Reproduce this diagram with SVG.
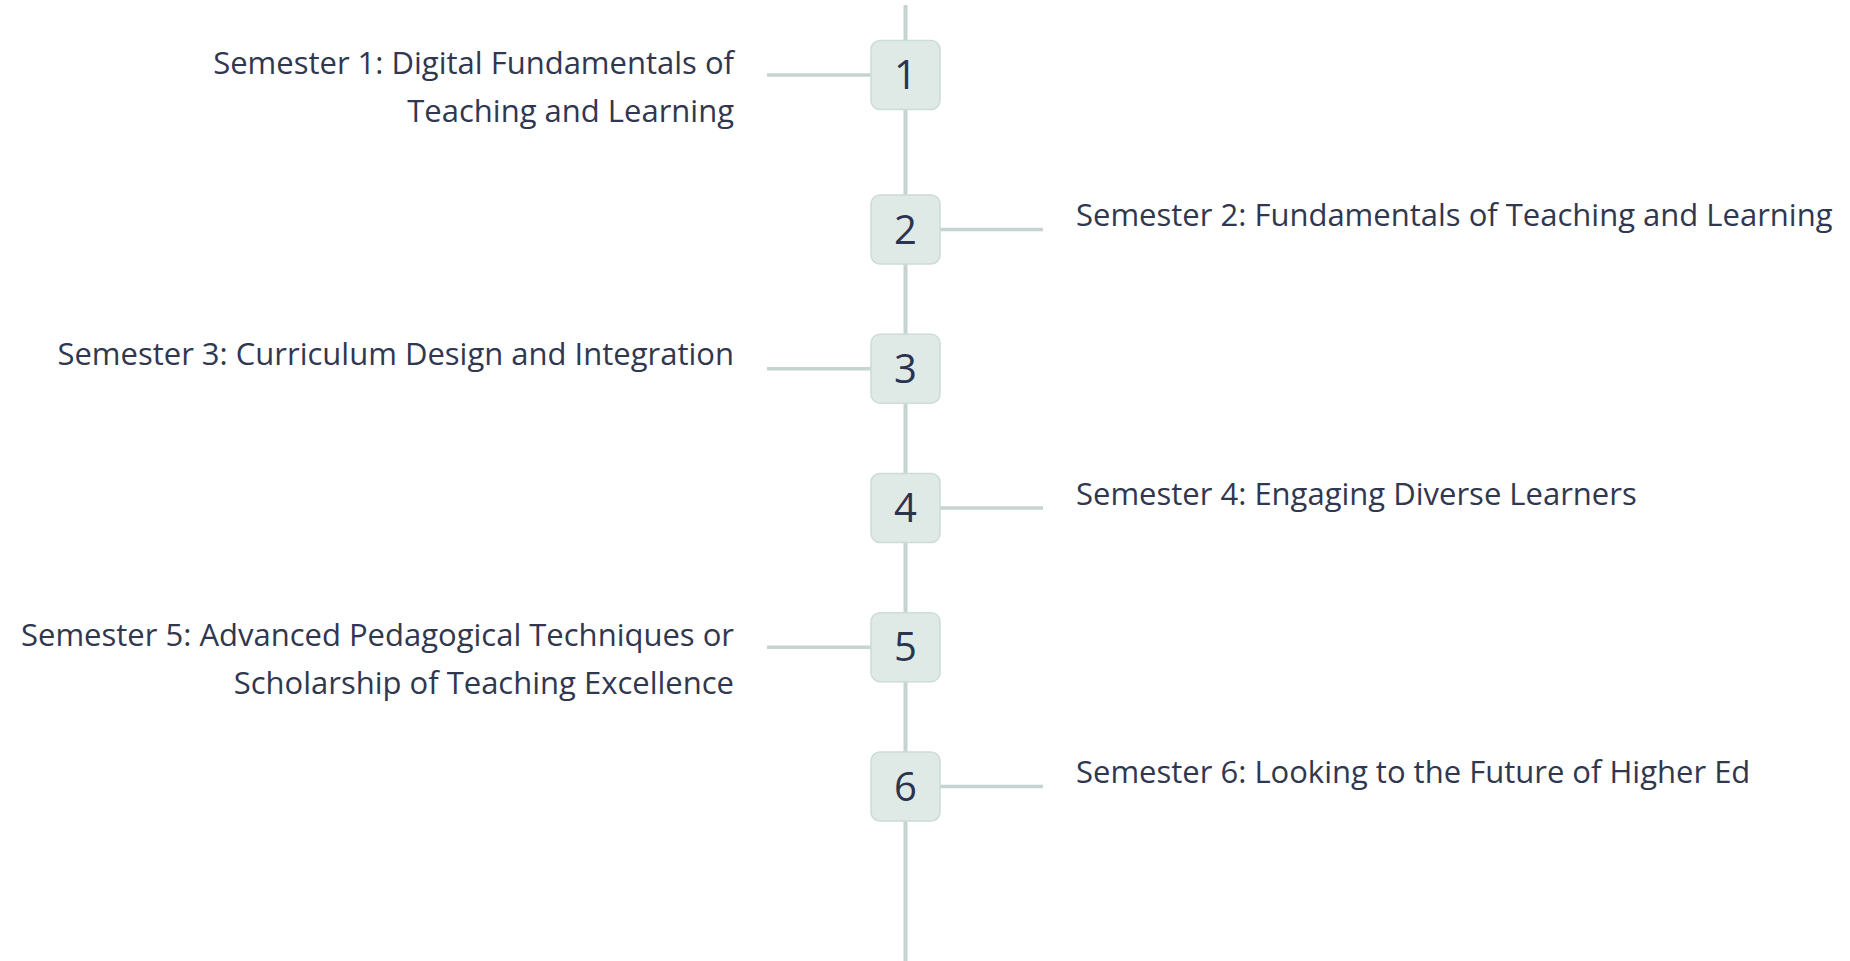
<svg xmlns="http://www.w3.org/2000/svg" width="1850" height="961" viewBox="0 0 1850 961">
<style>
.spine{stroke:#c6d4d1;stroke-width:4;fill:none}
.conn{stroke:#c6d4d1;stroke-width:3.5;fill:none}
.box{fill:#dfeae7;stroke:#ccdcd8;stroke-width:1.5}
.num{font-family:"Open Sans",Lato,sans-serif;font-size:40px;fill:#2c3350;text-anchor:middle}
.lbl{font-family:"Open Sans",Lato,sans-serif;font-size:31px;fill:#30374f}
.l{text-anchor:end}
.r{text-anchor:start}
</style>
<rect width="1850" height="961" fill="#ffffff"/>
<g id="connectors">
<line class="spine" x1="905.5" y1="5" x2="905.5" y2="961"/>
<line class="conn" x1="767" y1="75" x2="871" y2="75"/>
<line class="conn" x1="940" y1="229.5" x2="1043" y2="229.5"/>
<line class="conn" x1="767" y1="368.7" x2="871" y2="368.7"/>
<line class="conn" x1="940" y1="508" x2="1043" y2="508"/>
<line class="conn" x1="767" y1="647.2" x2="871" y2="647.2"/>
<line class="conn" x1="940" y1="786.5" x2="1043" y2="786.5"/>
</g>
<g id="node1">
<rect class="box" x="871" y="40.5" width="69" height="69" rx="9"/>
<text class="num" x="905.5" y="89">1</text>
<text class="lbl l" x="734" y="74">Semester 1: Digital Fundamentals of</text>
<text class="lbl l" x="734" y="121.5">Teaching and Learning</text>
</g>
<g id="node2">
<rect class="box" x="871" y="195" width="69" height="69" rx="9"/>
<text class="num" x="905.5" y="243.5">2</text>
<text class="lbl r" x="1076" y="226.2">Semester 2: Fundamentals of Teaching and Learning</text>
</g>
<g id="node3">
<rect class="box" x="871" y="334.2" width="69" height="69" rx="9"/>
<text class="num" x="905.5" y="382.7">3</text>
<text class="lbl l" x="734" y="365.4">Semester 3: Curriculum Design and Integration</text>
</g>
<g id="node4">
<rect class="box" x="871" y="473.5" width="69" height="69" rx="9"/>
<text class="num" x="905.5" y="522">4</text>
<text class="lbl r" x="1076" y="504.7">Semester 4: Engaging Diverse Learners</text>
</g>
<g id="node5">
<rect class="box" x="871" y="612.7" width="69" height="69" rx="9"/>
<text class="num" x="905.5" y="661.2">5</text>
<text class="lbl l" x="734" y="646.2">Semester 5: Advanced Pedagogical Techniques or</text>
<text class="lbl l" x="734" y="693.7">Scholarship of Teaching Excellence</text>
</g>
<g id="node6">
<rect class="box" x="871" y="752" width="69" height="69" rx="9"/>
<text class="num" x="905.5" y="800.5">6</text>
<text class="lbl r" x="1076" y="783.2">Semester 6: Looking to the Future of Higher Ed</text>
</g>
</svg>
